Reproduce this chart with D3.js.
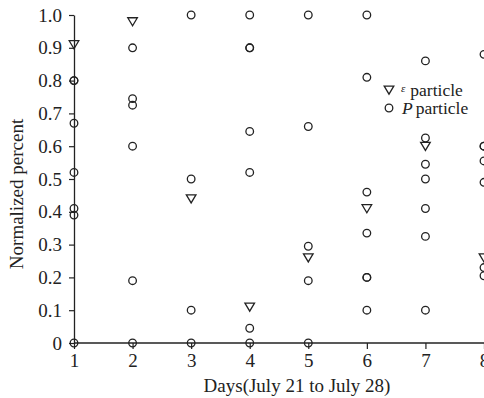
<!DOCTYPE html>
<html>
<head>
<meta charset="utf-8">
<script src="https://cdn.jsdelivr.net/npm/d3@7"></script>
<style>
  html, body { margin: 0; padding: 0; background: #fff; }
  svg { display: block; }
  text { font-family: "Liberation Serif", "Times New Roman", serif; fill: #222; }
</style>
</head>
<body>
<script>
// Days of the campaign (July 21 .. July 28)
const days = [1, 2, 3, 4, 5, 6, 7, 8];
// ε particle, one normalized value per day
const epsilonValues = [0.91, 0.98, 0.44, 0.11, 0.26, 0.41, 0.60, 0.26];
// P particle, several normalized values per day
const pValues = [
  [0.80, 0.80, 0.67, 0.52, 0.41, 0.39, 0],
  [0.90, 0.745, 0.725, 0.60, 0.19, 0],
  [1.0, 0.50, 0.10, 0],
  [1.0, 0.90, 0.90, 0.645, 0.52, 0.045, 0],
  [1.0, 0.66, 0.295, 0.19, 0],
  [1.0, 0.81, 0.46, 0.335, 0.20, 0.20, 0.10],
  [0.86, 0.625, 0.545, 0.50, 0.41, 0.325, 0.10],
  [0.88, 0.60, 0.60, 0.555, 0.49, 0.23, 0.205]
];
const yTicks = [0, 0.1, 0.2, 0.3, 0.4, 0.5, 0.6, 0.7, 0.8, 0.9, 1.0];
const yTickLabels = ["0", "0.1", "0.2", "0.3", "0.4", "0.5", "0.6", "0.7", "0.8", "0.9", "1.0"];

const W = 484, H = 398;
const svg = d3.select("body").append("svg").attr("width", W).attr("height", H);

const x = d3.scaleLinear().domain([1, 8]).range([74, 484]);
const y = d3.scaleLinear().domain([0, 1]).range([343, 15]);

const ink = "#222";
const fontSize = 19;

// axes
const xAxis = svg.append("g")
  .attr("transform", `translate(0,${y(0)})`)
  .call(d3.axisBottom(x).tickValues(days).tickFormat(d3.format("d")).tickSizeInner(6).tickSizeOuter(0).tickPadding(5));
xAxis.select(".domain").attr("stroke", ink).attr("stroke-width", 1.3).attr("d", `M${x(1)},0H${W + 10}`);
xAxis.selectAll(".tick line").attr("stroke", ink).attr("stroke-width", 1.2);
xAxis.selectAll(".tick text").attr("font-size", fontSize).attr("fill", ink)
  .style("font-family", '"Liberation Serif", serif');

const yAxis = svg.append("g")
  .attr("transform", `translate(${x(1)},0)`)
  .call(d3.axisLeft(y).tickValues(yTicks).tickFormat((d, i) => yTickLabels[i]).tickSizeInner(5).tickSizeOuter(0).tickPadding(7));
yAxis.select(".domain").attr("stroke", ink).attr("stroke-width", 1.3);
yAxis.selectAll(".tick line").attr("stroke", ink).attr("stroke-width", 1.2);
yAxis.selectAll(".tick text").attr("font-size", fontSize).attr("fill", ink)
  .style("font-family", '"Liberation Serif", serif');

// axis titles
svg.append("text")
  .attr("x", 297).attr("y", 392)
  .attr("text-anchor", "middle").attr("font-size", fontSize)
  .text("Days(July 21 to July 28)");
svg.append("text")
  .attr("transform", `translate(23,194) rotate(-90)`)
  .attr("text-anchor", "middle").attr("font-size", fontSize)
  .text("Normalized percent");

// marker helpers
const tri = (cx, cy) => `M${cx - 4.8},${cy - 3.8}L${cx + 4.8},${cy - 3.8}L${cx},${cy + 4.2}Z`;

// P particle circles
const pPoints = days.flatMap((d, i) => pValues[i].map(v => ({ d, v })));
svg.append("g").selectAll("circle").data(pPoints).join("circle")
  .attr("cx", p => x(p.d)).attr("cy", p => y(p.v)).attr("r", 3.8)
  .attr("fill", "none").attr("stroke", ink).attr("stroke-width", 1.3);

// ε particle triangles
svg.append("g").selectAll("path").data(days.map((d, i) => ({ d, v: epsilonValues[i] }))).join("path")
  .attr("d", p => tri(x(p.d), y(p.v)))
  .attr("fill", "none").attr("stroke", ink).attr("stroke-width", 1.3);

// legend
const lg = svg.append("g");
lg.append("path").attr("d", tri(389, 90)).attr("fill", "none").attr("stroke", ink).attr("stroke-width", 1.3);
const t1 = lg.append("text").attr("x", 401).attr("y", 96).attr("font-size", 17.5);
t1.append("tspan").attr("font-style", "italic").attr("font-size", 11).attr("dy", -4).text("ε");
t1.append("tspan").attr("dx", 5).attr("dy", 4).text("particle");
lg.append("circle").attr("cx", 389).attr("cy", 108).attr("r", 3.8)
  .attr("fill", "none").attr("stroke", ink).attr("stroke-width", 1.3);
const t2 = lg.append("text").attr("x", 402).attr("y", 114).attr("font-size", 17.5);
t2.append("tspan").attr("font-style", "italic").text("P");
t2.append("tspan").attr("dx", 3).text("particle");
</script>
</body>
</html>
